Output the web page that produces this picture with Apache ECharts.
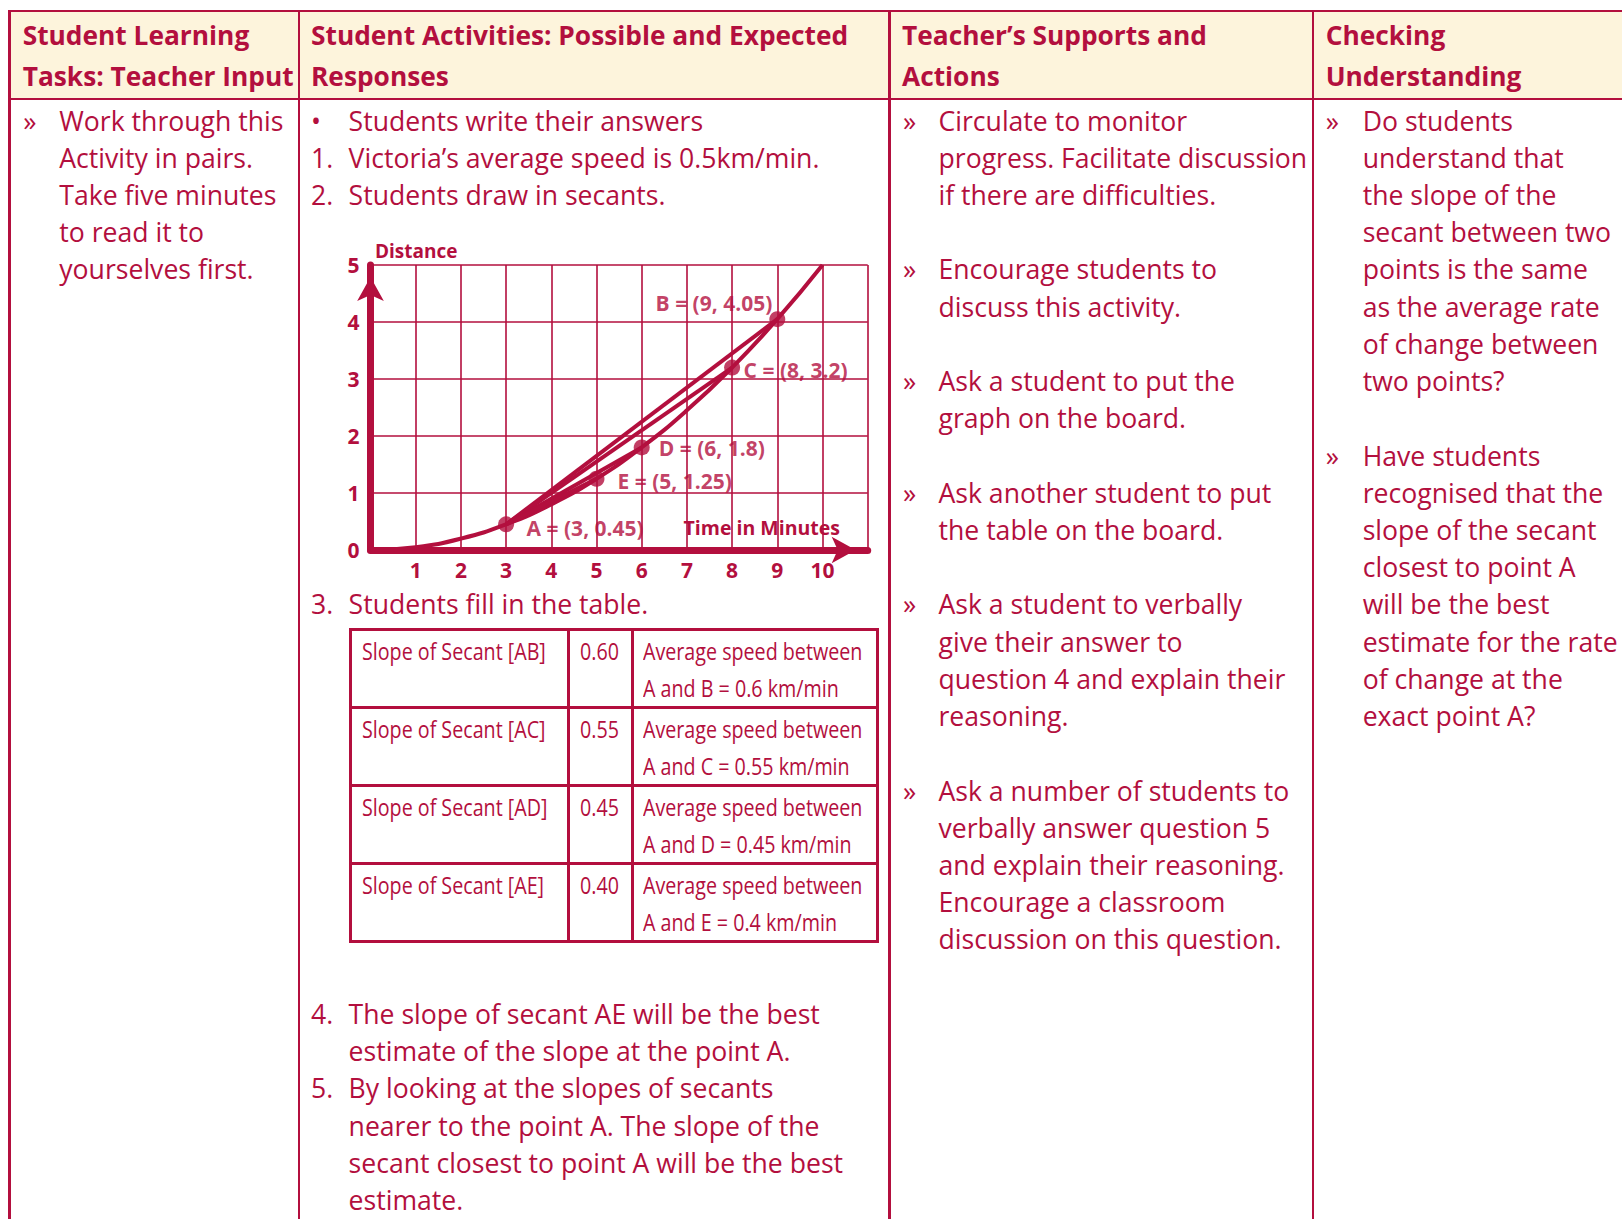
<!DOCTYPE html>
<html>
<head>
<meta charset="utf-8">
<script src="https://cdn.jsdelivr.net/npm/echarts@6/dist/echarts.min.js"></script>
<style>
  html, body { margin: 0; padding: 0; background: #fff; }
  #page { position: relative; width: 1622px; height: 1219px; overflow: hidden;
          font-family: "Open Sans", "Noto Sans", sans-serif; color: #b30f3e; }
  .rule { position: absolute; background: #b30f3e; }
  .ln { position: absolute; white-space: nowrap; font-size: 26.6px; line-height: 26.6px; }
  .hd { position: absolute; white-space: nowrap; font-size: 26.3px; line-height: 26.3px;
        font-weight: 700; }
  .cell { position: absolute; white-space: nowrap; font-size: 24px; line-height: 24px;
          transform: scaleX(0.82); transform-origin: 0 0; }
  #chart { position: absolute; left: 320px; top: 225px; width: 560px; height: 380px; }
</style>
</head>
<body>
<div id="page"><div id="chart"></div></div>
<script>
// curve: distance against time
const curveTime = [0, 1, 2, 3, 4, 5, 6, 7, 8, 9, 10];
const curveDist = [0, 0.05, 0.2, 0.45, 0.8, 1.25, 1.8, 2.45, 3.2, 4.05, 5];

// labelled points, A is the start of every secant
const pointNames = ['A', 'B', 'C', 'D', 'E'];
const pointTime = [3, 9, 8, 6, 5];
const pointDist = [0.45, 4.05, 3.2, 1.8, 1.25];

const xTickLabels = ['1', '2', '3', '4', '5', '6', '7', '8', '9', '10'];
const yTickLabels = ['0', '1', '2', '3', '4', '5'];

// table of slopes
const secantNames = ['AB', 'AC', 'AD', 'AE'];
const slopeValues = ['0.60', '0.55', '0.45', '0.40'];
const speedValues = ['0.6', '0.55', '0.45', '0.4'];

const headers = [
  ['Student Learning', 'Tasks: Teacher Input'],
  ['Student Activities: Possible and Expected', 'Responses'],
  ['Teacher\u2019s Supports and', 'Actions'],
  ['Checking', 'Understanding']
];

// [line index, marker, text]
const col1Lines = [
  [0, '\u00bb', 'Work through this'], [1, '', 'Activity in pairs.'],
  [2, '', 'Take five minutes'], [3, '', 'to read it to'], [4, '', 'yourselves first.']
];
const col2Lines = [
  [0, '\u2022', 'Students write their answers'],
  [1, '1.', 'Victoria\u2019s average speed is 0.5km/min.'],
  [2, '2.', 'Students draw in secants.'],
  [13, '3.', 'Students fill in the table.'],
  [24, '4.', 'The slope of secant AE will be the best'],
  [25, '', 'estimate of the slope at the point A.'],
  [26, '5.', 'By looking at the slopes of secants'],
  [27, '', 'nearer to the point A. The slope of the'],
  [28, '', 'secant closest to point A will be the best'],
  [29, '', 'estimate.']
];
const col3Lines = [
  [0, '\u00bb', 'Circulate to monitor'], [1, '', 'progress. Facilitate discussion'],
  [2, '', 'if there are difficulties.'],
  [4, '\u00bb', 'Encourage students to'], [5, '', 'discuss this activity.'],
  [7, '\u00bb', 'Ask a student to put the'], [8, '', 'graph on the board.'],
  [10, '\u00bb', 'Ask another student to put'], [11, '', 'the table on the board.'],
  [13, '\u00bb', 'Ask a student to verbally'], [14, '', 'give their answer to'],
  [15, '', 'question 4 and explain their'], [16, '', 'reasoning.'],
  [18, '\u00bb', 'Ask a number of students to'], [19, '', 'verbally answer question 5'],
  [20, '', 'and explain their reasoning.'], [21, '', 'Encourage a classroom'],
  [22, '', 'discussion on this question.']
];
const col4Lines = [
  [0, '\u00bb', 'Do students'], [1, '', 'understand that'], [2, '', 'the slope of the'],
  [3, '', 'secant between two'], [4, '', 'points is the same'], [5, '', 'as the average rate'],
  [6, '', 'of change between'], [7, '', 'two points?'],
  [9, '\u00bb', 'Have students'], [10, '', 'recognised that the'], [11, '', 'slope of the secant'],
  [12, '', 'closest to point A'], [13, '', 'will be the best'], [14, '', 'estimate for the rate'],
  [15, '', 'of change at the'], [16, '', 'exact point A?']
];

const RED = '#b30f3e';
const page = document.getElementById('page');

function box(cls, x, y, w, h, text) {
  const d = document.createElement('div');
  d.className = cls;
  d.style.left = x + 'px';
  d.style.top = y + 'px';
  if (w != null) d.style.width = w + 'px';
  if (h != null) d.style.height = h + 'px';
  if (text != null) d.textContent = text;
  page.appendChild(d);
  return d;
}
function hRule(x1, x2, y, t) { box('rule', x1 - t / 2, y - t / 2, x2 - x1 + t, t); }
function vRule(x, y1, y2, t) { box('rule', x - t / 2, y1 - t / 2, t, y2 - y1 + t); }
// text placed by its baseline
function textAt(cls, x, base, size, text) { box(cls, x, base - 0.888 * size, null, null, text); }

// header background and outer rules
const bg = box('', 9.7, 11, 1622, 88);
bg.style.position = 'absolute';
bg.style.background = '#fdf4dc';
const colEdges = [9.7, 298.8, 889.5, 1312.8];
hRule(9.7, 1630, 11, 2.5);
hRule(9.7, 1630, 98.8, 2.5);
colEdges.forEach(x => vRule(x, 11, 1230, 2.5));

// headers
const headX = [22.7, 311, 902, 1325.7];
headers.forEach((h, i) => {
  textAt('hd', headX[i], 45.5, 26.3, h[0]);
  textAt('hd', headX[i], 86.5, 26.3, h[1]);
});

// body text on a common line grid
const LINE0 = 131.2, STEP = 37.22;
function column(lines, mx, tx) {
  lines.forEach(([k, m, t]) => {
    const base = LINE0 + STEP * k;
    if (m) textAt('ln', mx, base, 26.6, m);
    textAt('ln', tx, base, 26.6, t);
  });
}
column(col1Lines, 23.3, 59.3);
column(col2Lines, 311, 348.6);
column(col3Lines, 903, 938.5);
column(col4Lines, 1325.7, 1362.7);

// table of slopes
const tX = [350.7, 568.7, 632.3, 877.5];
const tY = [629.7, 707.5, 785.5, 863.5, 941.3];
tY.forEach(y => hRule(tX[0], tX[3], y, 2.7));
tX.forEach(x => vRule(x, tY[0], tY[4], 2.7));
secantNames.forEach((s, i) => {
  const top = tY[i];
  textAt('cell', 361.7, top + 30.8, 24, 'Slope of Secant [' + s + ']');
  textAt('cell', 580, top + 30.8, 24, slopeValues[i]);
  textAt('cell', 643.3, top + 30.8, 24, 'Average speed between');
  textAt('cell', 643.3, top + 67.5, 24, 'A and ' + s[1] + ' = ' + speedValues[i] + ' km/min');
});

// the graph
const chart = echarts.init(document.getElementById('chart'), null, { renderer: 'svg' });
const labelFont = { color: RED, fontFamily: 'Open Sans', fontWeight: 'bold' };
const A = [pointTime[0], pointDist[0]];

const labelPlace = {
  A: { position: 'right', distance: 12.5, offset: [0, 4] },
  B: { position: 'left', distance: 0, offset: [3, -16] },
  C: { position: 'right', distance: 3.5, offset: [0, 2] },
  D: { position: 'right', distance: 9, offset: [0, 1] },
  E: { position: 'right', distance: 13, offset: [0, 2.5] }
};

const series = [{
  type: 'line',
  data: curveTime.map((t, i) => [t, curveDist[i]]),
  smooth: true,
  showSymbol: false,
  lineStyle: { color: RED, width: 4 },
  z: 3
}];
for (let i = 1; i < pointNames.length; i++) {
  series.push({
    type: 'line',
    data: [A, [pointTime[i], pointDist[i]]],
    showSymbol: false,
    lineStyle: { color: RED, width: 4 },
    z: 3
  });
}
series.push({
  type: 'scatter',
  symbolSize: 16,
  itemStyle: { color: RED },
  z: 5,
  data: pointNames.map((n, i) => ({
    name: n,
    value: [pointTime[i], pointDist[i]],
    label: Object.assign({
      show: true,
      fontSize: 21,
      formatter: n + ' = (' + pointTime[i] + ', ' + pointDist[i] + ')'
    }, labelFont, labelPlace[n])
  }))
});

const axisLine = (w) => ({
  show: true, onZero: false,
  symbol: ['none', 'arrow'], symbolSize: [20, 24], symbolOffset: [0, -12],
  lineStyle: { color: RED, width: w }
});

chart.setOption({
  animation: false,
  grid: { left: 50.5, top: 40, width: 497.2, height: 285 },
  xAxis: {
    type: 'value', min: 0, max: 11, interval: 1,
    axisLine: axisLine(7),
    axisTick: { show: false },
    splitLine: { show: true, lineStyle: { color: RED, width: 1.6 } },
    axisLabel: Object.assign({
      fontSize: 21, margin: 9,
      formatter: v => xTickLabels.includes(String(v)) ? String(v) : ''
    }, labelFont),
    name: 'Time in Minutes', nameLocation: 'end', nameGap: -27.7,
    nameTextStyle: Object.assign({
      fontSize: 19.5, align: 'right', verticalAlign: 'bottom', padding: [0, 0, 13, 0]
    }, labelFont)
  },
  yAxis: {
    type: 'value', min: 0, max: 5, interval: 1,
    axisLine: axisLine(7),
    axisTick: { show: false },
    splitLine: { show: true, lineStyle: { color: RED, width: 1.6 } },
    axisLabel: Object.assign({
      fontSize: 21, margin: 11,
      formatter: v => yTickLabels.includes(String(v)) ? String(v) : ''
    }, labelFont),
    name: 'Distance', nameLocation: 'end', nameGap: 5,
    nameTextStyle: Object.assign({
      fontSize: 19, align: 'left', verticalAlign: 'bottom', padding: [0, 0, 0, 4.5]
    }, labelFont)
  },
  series: series
});
</script>
</body>
</html>
